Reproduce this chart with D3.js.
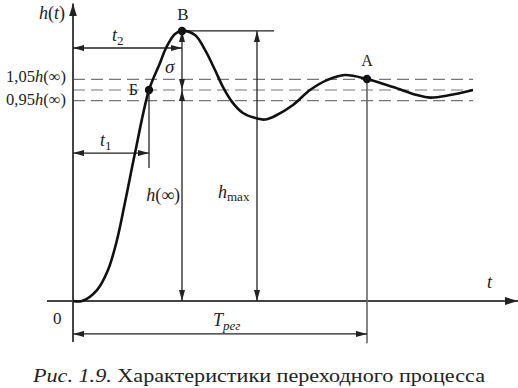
<!DOCTYPE html>
<html>
<head>
<meta charset="utf-8">
<script src="https://cdn.jsdelivr.net/npm/d3@7"></script>
<style>
  body { margin: 0; background: #fff; }
  text { font-family: "Liberation Serif", serif; fill: #222; }
</style>
</head>
<body>
<svg id="chart" width="518" height="388" font-family="Liberation Serif"></svg>
<script>
// step response h(t)
let tVals = [0, 0.225, 0.6, 0.875, 1.1, 1.3125, 1.55, 1.9, 2.175, 2.325, 2.55, 2.725,
  3.05, 3.3, 3.55, 3.75, 4.0, 4.25, 4.6, 4.8, 5.05, 5.5, 5.925, 6.35, 6.8, 7.35, 8.0, 8.6, 8.925, 9.425, 10.0];
let hVals = [0, 0, 0.052, 0.147, 0.289, 0.479, 0.701, 1.0, 1.128, 1.199, 1.265, 1.28,
  1.261, 1.19, 1.095, 1.014, 0.938, 0.891, 0.865, 0.86, 0.877, 0.929, 1.0, 1.047, 1.071, 1.052, 1.014, 0.976, 0.964, 0.976, 1.0];

// dashed tolerance band
let levels = [1.05, 1.0, 0.95];
let levelLabels = ["1,05", "", "0,95"];

// marked points
let pointNames = ["Б", "В", "А"];
let pointT = [1.9, 2.725, 7.35];
let pointH = [1.0, 1.28, 1.052];

let svg = d3.select("#chart");
let ink = "#222";

let x = d3.scaleLinear().domain([0, 10]).range([73, 473]);
let y = d3.scaleLinear().domain([0, 1]).range([301, 90]);

// arrow markers
let defs = svg.append("defs");
function marker(id, len, wid) {
  defs.append("marker")
    .attr("id", id)
    .attr("viewBox", "0 0 " + len + " " + wid)
    .attr("refX", len)
    .attr("refY", wid / 2)
    .attr("markerWidth", len)
    .attr("markerHeight", wid)
    .attr("markerUnits", "userSpaceOnUse")
    .attr("orient", "auto-start-reverse")
    .append("path")
    .attr("d", "M0,0L" + len + "," + wid / 2 + "L0," + wid + "Z")
    .attr("fill", ink);
}
marker("arr", 11, 6);
marker("axarr", 13, 8);

function line(x1, y1, x2, y2, opts) {
  opts = opts || {};
  let l = svg.append("line")
    .attr("x1", x1).attr("y1", y1).attr("x2", x2).attr("y2", y2)
    .attr("stroke", opts.color || ink)
    .attr("stroke-width", opts.w || 1.3);
  if (opts.start) l.attr("marker-start", "url(#" + opts.start + ")");
  if (opts.end) l.attr("marker-end", "url(#" + opts.end + ")");
  return l;
}

// dashed levels
svg.selectAll(".lvl")
  .data(levels)
  .enter()
  .append("line")
  .attr("class", "lvl")
  .attr("x1", x(0))
  .attr("x2", x(10))
  .attr("y1", function(d) { return y(d); })
  .attr("y2", function(d) { return y(d); })
  .attr("stroke", "#777")
  .attr("stroke-width", 1.2)
  .attr("stroke-dasharray", "12,6");

// axes
line(x(-0.65), y(0), x(11.125), y(0), { w: 2, color: "#444", end: "axarr" });
line(x(0), y(-0.194), x(0), y(1.41), { w: 2, color: "#444", end: "axarr" });

let peakX = x(pointT[1]), peakY = y(pointH[1]);

// peak horizontal and h_max
line(peakX, peakY, x(5.025), peakY, { w: 1.4 });
line(x(4.6), peakY, x(4.6), y(0), { start: "arr", end: "arr" });

// sigma and h(inf)
line(peakX, peakY, peakX, y(1), { start: "arr", end: "arr" });
line(peakX, y(1), peakX, y(0), { start: "arr", end: "arr" });

// t2
line(x(0), y(1.199), peakX, y(1.199), { start: "arr", end: "arr" });

// t1
let bX = x(pointT[0]);
line(bX, y(pointH[0]), bX, y(0.63), { w: 1.3 });
line(x(0), y(0.701), bX, y(0.701), { start: "arr", end: "arr" });

// T_reg
let aX = x(pointT[2]);
line(aX, y(pointH[2]), aX, y(-0.2), { w: 1.6, color: "#666" });
line(x(0), y(-0.156), aX, y(-0.156), { start: "arr", end: "arr" });

// the curve
let curve = d3.line()
  .x(function(d, i) { return x(tVals[i]); })
  .y(function(d, i) { return y(hVals[i]); })
  .curve(d3.curveCatmullRom.alpha(0.5));

svg.append("path")
  .attr("d", curve(tVals))
  .attr("fill", "none")
  .attr("stroke", "#111")
  .attr("stroke-width", 2.6);

// points
svg.selectAll(".pt")
  .data(pointNames)
  .enter()
  .append("circle")
  .attr("class", "pt")
  .attr("cx", function(d, i) { return x(pointT[i]); })
  .attr("cy", function(d, i) { return y(pointH[i]); })
  .attr("r", 4.2)
  .attr("fill", "#111");

// texts
function txt(s, tx, ty, size, anchor, italic) {
  return svg.append("text")
    .attr("x", tx).attr("y", ty)
    .attr("font-size", size)
    .attr("text-anchor", anchor || "start")
    .attr("font-style", italic ? "italic" : "normal")
    .text(s);
}

let ht = txt("", 65, 19, 18, "end");
ht.append("tspan").attr("font-style", "italic").text("h");
ht.append("tspan").text("(");
ht.append("tspan").attr("font-style", "italic").text("t");
ht.append("tspan").text(")");

// level labels
levels.forEach(function(lv, i) {
  if (!levelLabels[i]) return;
  let t = txt("", 66, y(lv) + (lv > 1 ? 3 : 4), 16.5, "end");
  t.append("tspan").text(levelLabels[i]);
  t.append("tspan").attr("font-style", "italic").text("h");
  t.append("tspan").text("(∞)");
});

txt(pointNames[0], 138, y(pointH[0]) + 5, 16, "end");
txt(pointNames[1], peakX + 1, peakY - 11, 17, "middle");
txt(pointNames[2], aX, y(pointH[2]) - 13, 16, "middle");

let t2 = txt("", 112, 41, 18, "start", true);
t2.append("tspan").text("t");
t2.append("tspan").attr("font-size", 13).attr("font-style", "normal").attr("dy", 4).text("2");

let t1 = txt("", 100, 146, 18, "start", true);
t1.append("tspan").text("t");
t1.append("tspan").attr("font-size", 13).attr("font-style", "normal").attr("dy", 4).text("1");

txt("σ", 165, 73, 19, "start", true);

let hinf = txt("", 180, 201, 18, "end");
hinf.append("tspan").attr("font-style", "italic").text("h");
hinf.append("tspan").text("(∞)");

let hmax = txt("", 218, 198, 18, "start");
hmax.append("tspan").attr("font-style", "italic").text("h");
hmax.append("tspan").attr("font-size", 13).attr("dy", 3).text("max");

txt("t", 487, 288, 18, "start", true);
txt("0", 53, 324, 17, "start");

let treg = txt("", 213, 326, 18, "start", true);
treg.append("tspan").text("T");
treg.append("tspan").attr("font-size", 13).attr("dy", 4).text("рег");

// caption
let cap = svg.append("text")
  .attr("x", 33).attr("y", 382)
  .attr("font-size", 18)
  .attr("textLength", 452)
  .attr("lengthAdjust", "spacingAndGlyphs");
cap.append("tspan").attr("font-style", "italic").text("Рис. 1.9.");
cap.append("tspan").text(" Характеристики переходного процесса");
</script>
</body>
</html>
